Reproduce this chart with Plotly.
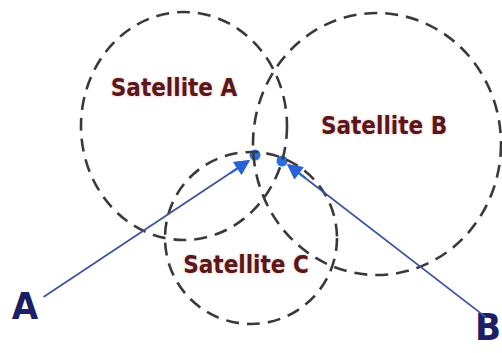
import plotly.graph_objects as go

# Circles (pixel-like coordinate space, y downward)
circle_names = ["Satellite A", "Satellite B", "Satellite C"]
circle_cx = [184, 377, 251]
circle_cy = [126, 144, 238]
circle_rx = [103, 124, 86]
circle_ry = [114, 131, 86]

# Label positions
label_x = [174, 384, 246]
label_y = [90, 128, 267]

# Intersection points
point_x = [255, 282]
point_y = [155, 161]

# Arrows: tail -> head
arrow_names = ["A", "B"]
arrow_tail_x = [42, 487]
arrow_tail_y = [298, 318]
arrow_head_x = [250, 287]
arrow_head_y = [160, 164]
arrow_label_x = [25, 488]
arrow_label_y = [309, 330]

FONT = "Liberation Sans Narrow, DejaVu Sans Condensed, Arial Narrow, sans-serif"

fig = go.Figure()

for i in range(len(circle_names)):
    fig.add_shape(
        type="circle", xref="x", yref="y",
        x0=circle_cx[i] - circle_rx[i], x1=circle_cx[i] + circle_rx[i],
        y0=circle_cy[i] - circle_ry[i], y1=circle_cy[i] + circle_ry[i],
        line=dict(color="#3a3a3a", width=2.6, dash="13px,8px"),
        fillcolor="rgba(0,0,0,0)",
    )

fig.add_trace(go.Scatter(
    x=label_x, y=label_y, text=circle_names, mode="text",
    textfont=dict(family=FONT, size=24, color="#5a1719", weight="bold",
                  shadow="0px 0px 3px #e9b9b9"),
    hoverinfo="skip", showlegend=False,
))

for i in range(len(arrow_names)):
    # arrow shaft
    fig.add_annotation(
        x=arrow_head_x[i], y=arrow_head_y[i], ax=arrow_tail_x[i], ay=arrow_tail_y[i],
        xref="x", yref="y", axref="x", ayref="y",
        text="", showarrow=True, arrowhead=2, arrowsize=1.6, arrowwidth=1.8,
        arrowcolor="#3f55a0", standoff=0,
    )
    # brighter arrowhead overlay
    sx = arrow_head_x[i] + 0.1 * (arrow_tail_x[i] - arrow_head_x[i])
    sy = arrow_head_y[i] + 0.1 * (arrow_tail_y[i] - arrow_head_y[i])
    fig.add_annotation(
        x=arrow_head_x[i], y=arrow_head_y[i], ax=sx, ay=sy,
        xref="x", yref="y", axref="x", ayref="y",
        text="", showarrow=True, arrowhead=2, arrowsize=1.4, arrowwidth=2.2,
        arrowcolor="#2563d6", standoff=0,
    )

fig.add_trace(go.Scatter(
    x=point_x, y=point_y, mode="markers",
    marker=dict(size=11, color="#2a6fe0", line=dict(width=0)),
    hoverinfo="skip", showlegend=False,
))

fig.add_trace(go.Scatter(
    x=arrow_label_x, y=arrow_label_y, text=arrow_names, mode="text",
    textfont=dict(family=FONT, size=38, color="#1c1f66", weight="bold"),
    hoverinfo="skip", showlegend=False, cliponaxis=False,
))

fig.update_layout(
    width=502, height=353,
    margin=dict(l=0, r=0, t=0, b=0),
    paper_bgcolor="white", plot_bgcolor="white",
    xaxis=dict(range=[0, 502], visible=False, fixedrange=True),
    yaxis=dict(range=[353, 0], visible=False, fixedrange=True),
    showlegend=False,
)

fig.write_html(
    "out.html",
    config={"displayModeBar": False},
    post_script="document.body.style.margin='0';document.body.style.padding='0';",
)
